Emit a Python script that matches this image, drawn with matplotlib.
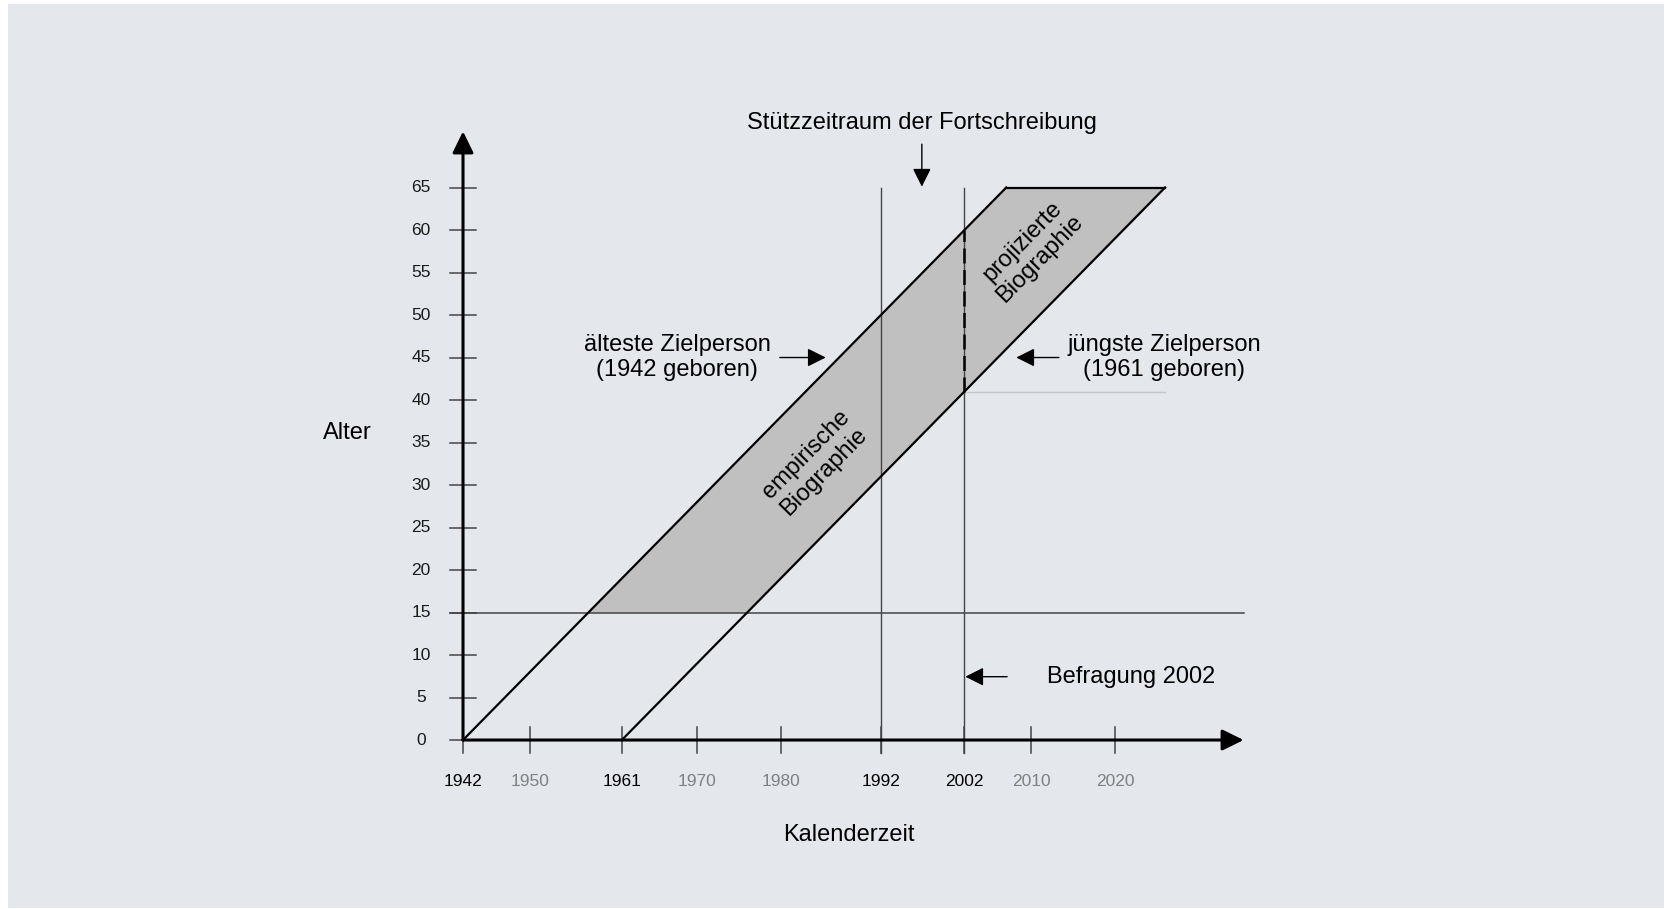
import matplotlib
matplotlib.use('Agg')
import matplotlib.pyplot as plt
from matplotlib.patches import Rectangle

plt.rcParams['font.family'] = ['Liberation Sans', 'DejaVu Sans']

# Daten
geburtsjahre = [1942, 1961]          # aelteste / juengste Zielperson
max_alter = 65
start_alter = 15
befragung = 2002
stuetz_start = 1992
x_ticks = [1942, 1950, 1961, 1970, 1980, 1992, 2002, 2010, 2020]
x_schwarz = [1942, 1961, 1992, 2002]
y_ticks = [0, 5, 10, 15, 20, 25, 30, 35, 40, 45, 50, 55, 60, 65]

fig = plt.figure(figsize=(16.64, 9.09), dpi=100)
fig.patches.append(Rectangle((8 / 1664, 1 / 909), 1, 904 / 909, transform=fig.transFigure,
                             facecolor='#e4e7ec', edgecolor='none', zorder=-10))
ax = fig.add_axes([0, 0, 1, 1])
ax.set_xlim(1886.6, 2085.7)
ax.set_ylim(-19.88, 87.06)
ax.axis('off')
ax.patch.set_alpha(0)

alt, jung = geburtsjahre

# grau hinterlegte Flaeche ab 15 Jahren
ax.fill_betweenx([start_alter, max_alter],
                 [alt + start_alter, alt + max_alter],
                 [jung + start_alter, jung + max_alter],
                 color='#c0c0c0', lw=0, zorder=1)

# Lebenslinien
for b in geburtsjahre:
    ax.plot([b, b + max_alter], [0, max_alter], color='black', lw=1.6, zorder=4)
ax.plot([alt + max_alter, jung + max_alter], [max_alter, max_alter], color='black', lw=1.6, zorder=4)

# Linie bei 15 Jahren
ax.plot([1940.5, 2035.4], [start_alter, start_alter], color='#444444', lw=1.1, zorder=3)

# Stuetzzeitraum
for j in [stuetz_start, befragung]:
    ax.plot([j, j], [-1.5, max_alter], color='#444444', lw=1.0, zorder=3)

alter_2002_jung = befragung - jung
alter_2002_alt = befragung - alt
ax.plot([befragung, jung + max_alter], [alter_2002_jung, alter_2002_jung], color='#c4c7cc', lw=1.0, zorder=2)
ax.plot([befragung, befragung], [alter_2002_jung, alter_2002_alt], color='black', lw=1.8,
        dashes=(6, 2.6), zorder=5)

# Achsen
pfeil = dict(arrowstyle='-|>,head_length=0.65,head_width=0.32', mutation_scale=20,
             color='black', lw=2.2, shrinkA=0, shrinkB=0)
ax.annotate('', xy=(2035.4, 0), xytext=(alt, 0), arrowprops=pfeil, zorder=6)
ax.annotate('', xy=(alt, 71.6), xytext=(alt, 0), arrowprops=pfeil, zorder=6)

for t in x_ticks:
    ax.plot([t, t], [-1.5, 1.5], color='#444444', lw=1.1, zorder=3)
    ax.text(t, -4.9, str(t), ha='center', va='center', fontsize=12.5,
            color='black' if t in x_schwarz else '#808080')
for t in y_ticks:
    ax.plot([1940.5, 1943.5], [t, t], color='#444444', lw=1.1, zorder=3)
    ax.text(1937.0, t, str(t), ha='center', va='center', fontsize=12.5, color='#1a1a1a')

ax.text(1928.1, 36.1, 'Alter', ha='center', va='center', fontsize=17)
ax.text(1988.2, -11.2, 'Kalenderzeit', ha='center', va='center', fontsize=17)

# Beschriftungen mit Pfeilen
klein = dict(arrowstyle='-|>,head_length=0.8,head_width=0.4', mutation_scale=14,
             color='black', lw=1.0, shrinkA=0, shrinkB=0)
ax.text(1996.9, 72.6, 'Stützzeitraum der Fortschreibung', ha='center', va='center', fontsize=17)
ax.annotate('', xy=(1996.9, 65.1), xytext=(1996.9, 70.1), arrowprops=klein)

ax.text(1967.6, 45.0, 'älteste Zielperson\n(1942 geboren)', ha='center', va='center',
        fontsize=17, multialignment='center')
ax.annotate('', xy=(1985.4, 45.0), xytext=(1979.9, 45.0), arrowprops=klein)

ax.text(2025.9, 45.0, 'jüngste Zielperson\n(1961 geboren)', ha='center', va='center',
        fontsize=17, multialignment='center')
ax.annotate('', xy=(2008.2, 45.0), xytext=(2013.3, 45.0), arrowprops=klein)

ax.text(2021.9, 7.45, 'Befragung 2002', ha='center', va='center', fontsize=17)
ax.annotate('', xy=(2002.1, 7.45), xytext=(2007.1, 7.45), arrowprops=klein)

ax.text(1984.1, 32.6, 'empirische\nBiographie', ha='center', va='center', fontsize=17,
        rotation=45.5, rotation_mode='anchor', multialignment='center', zorder=7)
ax.text(2010.0, 57.6, 'projizierte\nBiographie', ha='center', va='center', fontsize=17,
        rotation=45.5, rotation_mode='anchor', multialignment='center', zorder=7)

fig.savefig('out.png', dpi=100, facecolor='white')
